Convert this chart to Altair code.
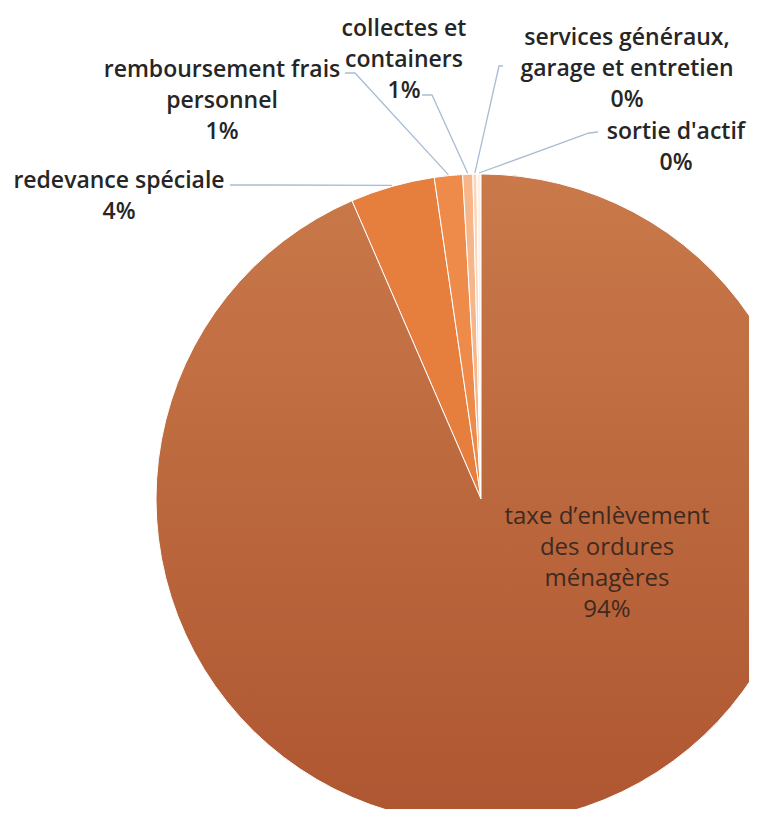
import math
import altair as alt
import pandas as pd

# ---- data ----
categories = [
    "taxe d’enlèvement des ordures ménagères",
    "redevance spéciale",
    "remboursement frais personnel",
    "collectes et containers",
    "services généraux, garage et entretien",
    "sortie d'actif",
]
values = [93.5, 4.2, 1.4, 0.5, 0.2, 0.2]
label_lines = [
    ["taxe d’enlèvement", "des ordures", "ménagères"],
    ["redevance spéciale"],
    ["remboursement frais", "personnel"],
    ["collectes et", "containers"],
    ["services généraux,", "garage et entretien"],
    ["sortie d'actif"],
]
colors = ["#BF6A3F", "#E67E3E", "#EE8B4B", "#F6B68A", "#FAD6BA", "#FDF0E4"]

# ---- layout (chart pixel coords) ----
W, H = 741, 801
CX, CY, R = 473, 491, 325
label_pos = [(599, 516), (111, 180), (214, 69), (396, 28), (619, 37), (668, 131)]
leader_start = [None, (222, 177), (337, 65), (414, 87), (495, 58), (590, 124)]
leader_elbow = [None, (262, 177), (347, 65), (424, 87), (491, 58), (581, 125)]

total = sum(values)
pct = [f"{math.floor(v / total * 100 + 0.5)}%" for v in values]

df = pd.DataFrame({"category": categories, "value": values, "idx": list(range(len(values)))})

# label table
lab_rows = []
for i, (lines, p) in enumerate(zip(label_lines, pct)):
    lab_rows.append({"idx": i, "text": "\n".join(lines + [p]),
                     "lx": label_pos[i][0], "ly": label_pos[i][1]})
lab_df = pd.DataFrame(lab_rows)

# leader lines: label anchor -> elbow -> slice mid on the rim (from data)
line_rows = []
cum = 0.0
for i, v in enumerate(values):
    mid = (cum + v / 2) / total
    cum += v
    if leader_start[i] is None:
        continue
    ang = 2 * math.pi * mid
    ex = CX + (R + 1) * math.sin(ang)
    ey = CY - (R + 1) * math.cos(ang)
    pts = [leader_start[i], leader_elbow[i], (ex, ey)]
    for k, (px, py) in enumerate(pts):
        line_rows.append({"idx": i, "k": k, "px": px, "py": py})
line_df = pd.DataFrame(line_rows)

base = alt.Chart(df)

pie = base.mark_arc(radius=R, stroke="white", strokeWidth=1).encode(
    theta=alt.Theta("value:Q", stack=True),
    color=alt.Color("category:N", scale=alt.Scale(domain=categories, range=colors), legend=None),
    order=alt.Order("idx:Q"),
    x=alt.value(CX),
    y=alt.value(CY),
)

grad = alt.LinearGradient(
    gradient="linear",
    stops=[alt.GradientStop(offset=0, color="#C9794A"), alt.GradientStop(offset=1, color="#AE5631")],
    x1=0, x2=0, y1=0, y2=1,
)
pie_shade = base.mark_arc(radius=R, color=grad, stroke="white", strokeWidth=1).encode(
    theta=alt.Theta("value:Q", stack=True),
    order=alt.Order("idx:Q"),
    opacity=alt.condition(alt.datum.idx == 0, alt.value(1), alt.value(0)),
    x=alt.value(CX),
    y=alt.value(CY),
)

leaders = alt.Chart(line_df).mark_line(color="#A9BCD3", strokeWidth=1.3).encode(
    x=alt.X("px:Q", scale=None, axis=None),
    y=alt.Y("py:Q", scale=None, axis=None),
    detail="idx:N",
    order="k:Q",
)

outer = alt.Chart(lab_df[lab_df.idx > 0]).mark_text(
    font="Open Sans", fontSize=23, fontWeight=600, color="#262626",
    align="center", baseline="alphabetic", lineBreak="\n", lineHeight=31,
).encode(
    x=alt.X("lx:Q", scale=None, axis=None),
    y=alt.Y("ly:Q", scale=None, axis=None),
    text="text:N",
)

inner = alt.Chart(lab_df[lab_df.idx == 0]).mark_text(
    font="Open Sans", fontSize=24, fontWeight="normal", color="#3E2A20",
    align="center", baseline="alphabetic", lineBreak="\n", lineHeight=31,
).encode(
    x=alt.X("lx:Q", scale=None, axis=None),
    y=alt.Y("ly:Q", scale=None, axis=None),
    text="text:N",
)

chart = alt.layer(pie, pie_shade, leaders, outer, inner).properties(
    width=W, height=H, padding=0,
    autosize=alt.AutoSizeParams(type="none"),
).configure_view(stroke=None)

chart.save("out.html", embed_options={"renderer": "svg", "actions": False})
